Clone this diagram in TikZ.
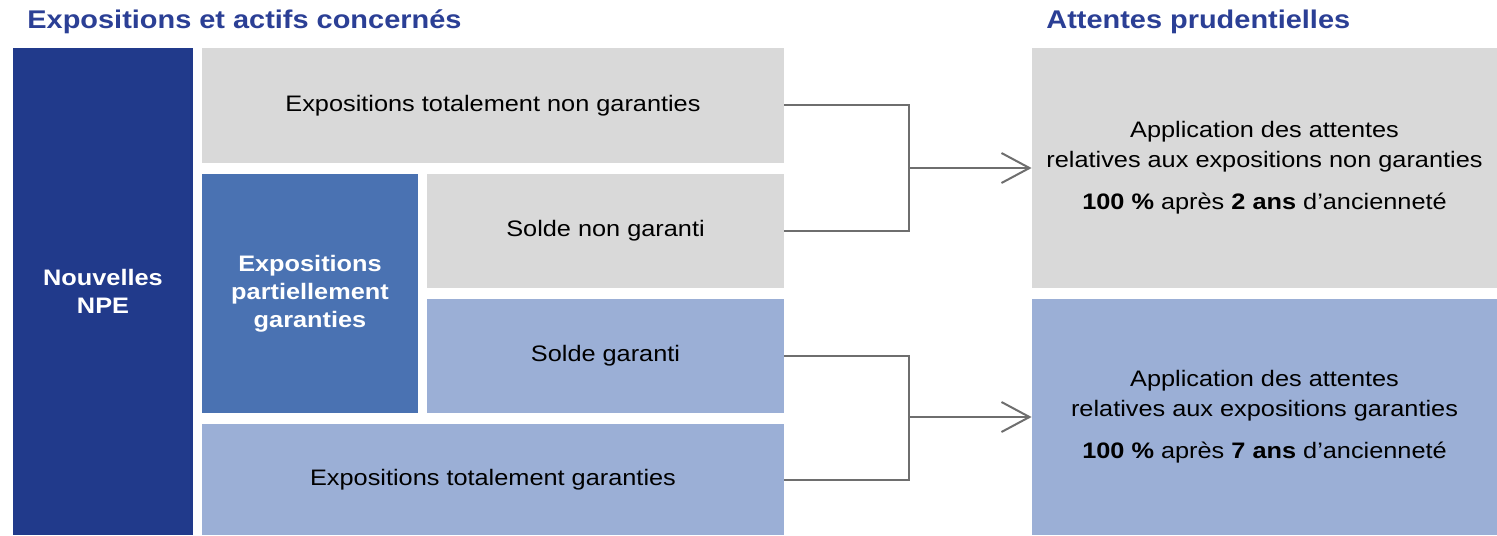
\documentclass[tikz,border=0pt]{standalone}
\usepackage{fontspec}
\setmainfont[FakeStretch=1.13]{Liberation Sans}
\usetikzlibrary{arrows.meta}

\definecolor{navy}{RGB}{33,58,139}
\definecolor{midblue}{RGB}{74,114,178}
\definecolor{paleblue}{RGB}{155,175,214}
\definecolor{palegray}{RGB}{217,217,217}
\definecolor{linegray}{RGB}{110,110,110}
\definecolor{titleblue}{RGB}{43,63,149}

\tikzset{
	box/.style={rectangle, inner sep=0pt, align=center,
		font=\fontsize{11.2}{14}\selectfont},
	graybox/.style={box, fill=palegray},
	lightbox/.style={box, fill=paleblue},
	darkbox/.style={box, fill=#1, text=white, font=\bfseries\fontsize{11.2}{14}\selectfont},
	heading/.style={anchor=west, inner sep=0pt, text=titleblue,
		font=\bfseries\fontsize{12.8}{15}\selectfont},
	link/.style={draw=linegray, line width=1pt},
	tip/.style={link, -{Straight Barb[length=14pt, width=15pt, line width=1pt]}}
}

\begin{document}
\begin{tikzpicture}[x=0.5pt, y=-0.5pt]
	\useasboundingbox (0,0) rectangle (1497,535);

	\node[heading] (titleleft) at (27,22) {Expositions et actifs concernés};
	\node[heading] (titleright) at (1046,22) {Attentes prudentielles};

	\node[darkbox=navy, minimum width=90pt, minimum height=243.5pt] (npe) at (103,291.5)
		{Nouvelles\\NPE};
	\node[graybox, minimum width=291pt, minimum height=57.5pt] (tng) at (493,105.5)
		{Expositions totalement non garanties};
	\node[darkbox=midblue, minimum width=108pt, minimum height=119.5pt] (epg) at (310,293.5)
		{Expositions\\partiellement\\garanties};
	\node[graybox, minimum width=178.5pt, minimum height=57pt] (sng) at (605.5,231)
		{Solde non garanti};
	\node[lightbox, minimum width=178.5pt, minimum height=57pt] (sg) at (605.5,356)
		{Solde garanti};
	\node[lightbox, minimum width=291pt, minimum height=55.5pt] (tg) at (493,479.5)
		{Expositions totalement garanties};

	\node[graybox, minimum width=232.5pt, minimum height=120pt,
		font=\fontsize{11.2}{15}\selectfont] (attng) at (1264.5,168)
		{Application des attentes\\relatives aux expositions non garanties\\[6pt]
		\textbf{100 \%} après \textbf{2 ans} d’ancienneté};
	\node[lightbox, minimum width=232.5pt, minimum height=118pt,
		font=\fontsize{11.2}{15}\selectfont] (attg) at (1264.5,417)
		{Application des attentes\\relatives aux expositions garanties\\[6pt]
		\textbf{100 \%} après \textbf{7 ans} d’ancienneté};

	% connecteurs
	\coordinate (jng) at (909,168);
	\coordinate (jg) at (909,417);
	\draw[link] (tng.east) -| (jng) |- (sng.east);
	\draw[tip] (jng) -- (attng.west);
	\draw[link] (sg.east) -| (jg) |- (tg.east);
	\draw[tip] (jg) -- (attg.west);
\end{tikzpicture}
\end{document}
